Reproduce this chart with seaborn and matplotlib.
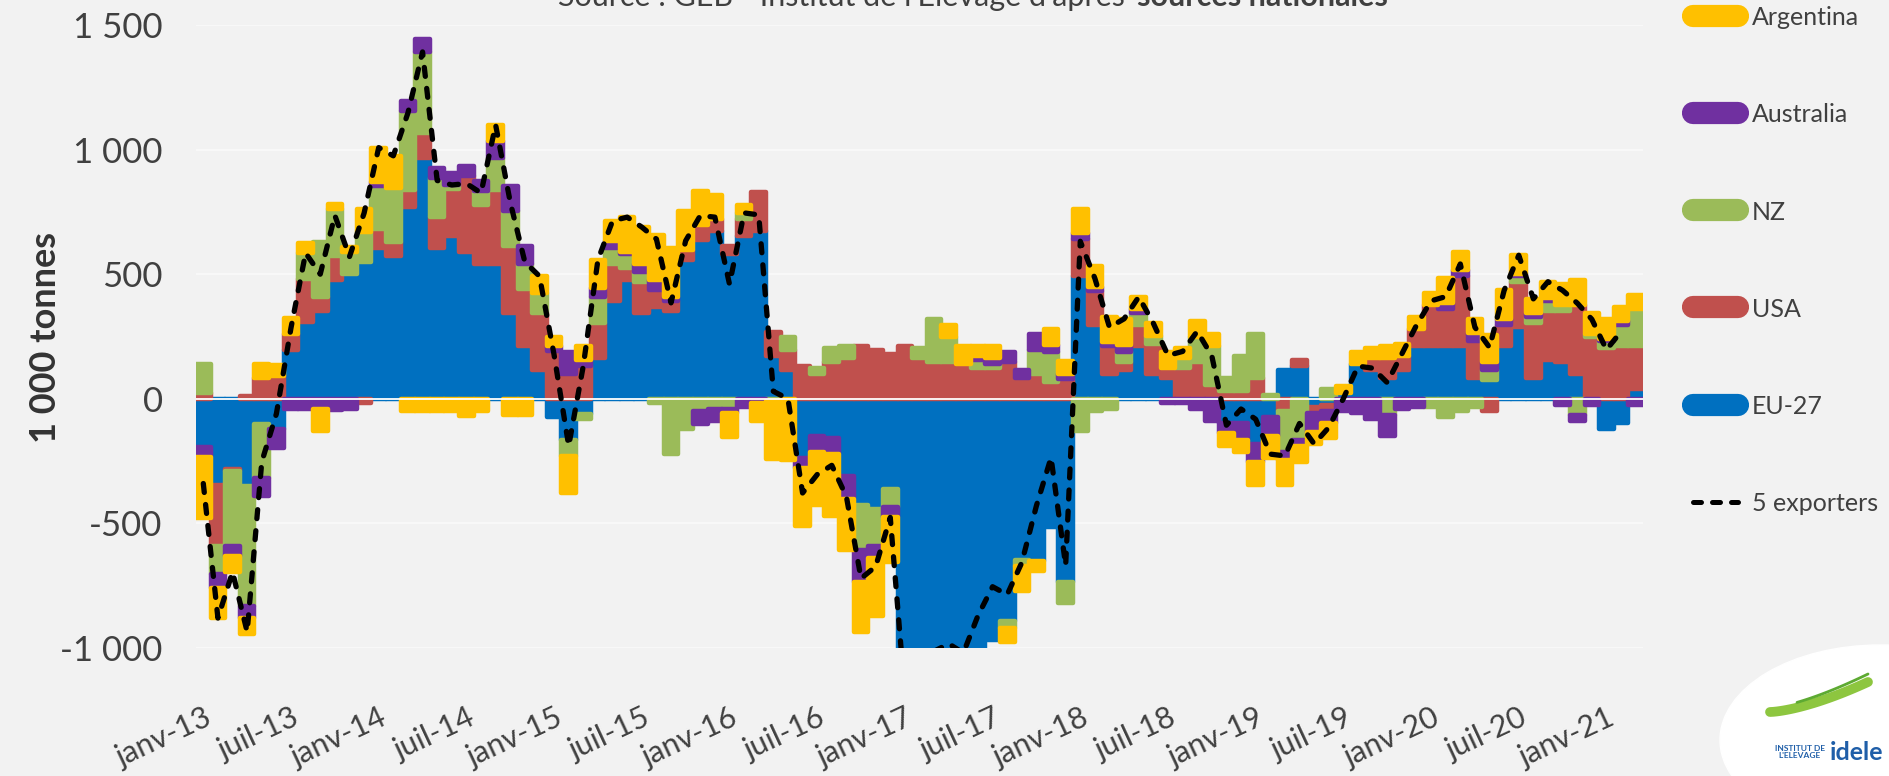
import numpy as np
import pandas as pd
import matplotlib
matplotlib.use("Agg")
import matplotlib.pyplot as plt
import seaborn as sns
from matplotlib.lines import Line2D
from matplotlib.patches import Ellipse

# Monthly change in beef exports (1 000 t), Jan 2013 - Mar 2021
months = pd.date_range("2013-01-01", "2021-03-01", freq="MS")

eu27 = [-195, -345, -280, -350, -103, -123, 195, 310, 352, 475,
        500, 550, 606, 574, 770, 967, 606, 655, 590, 540,
        541, 344, 213, 115, -74, -164, -60, 164, 393, 475,
        344, 369, 352, 557, 639, 672, 582, 655, 672, 172,
        115, -238, -148, -156, -311, -426, -443, -361, -1400, -1300,
        -1333, -1278, -1233, -1083, -967, -893, -647, -650, -516, -737,
        492, 295, 98, 115, 213, 98, 82, 0, 0, 0,
        -98, -98, -180, -74, 115, 131, -33, -25, 25, 139,
        115, 82, 115, 213, 213, 213, 213, 82, 74, 213,
        287, 82, 156, 148, 98, 0, -123, -98, 41]

usa = [25, -245, -10, 10, 84, 90, 65, 170, 57, 98,
       0, -15, 74, 57, 66, 98, 123, 188, 303, 238,
       295, 270, 229, 229, 190, 98, 131, 139, 148, 49,
       123, 66, 41, 41, 57, 49, 33, 66, 156, 98,
       82, 131, 98, 148, 164, 213, 197, 180, 213, 164,
       148, 148, 139, 123, 123, 148, 82, 98, 66, 80,
       148, 139, 115, 33, 82, 123, 41, 123, 148, 57,
       33, 33, 82, 0, -49, 25, -25, -25, 0, 0,
       49, 82, 57, 66, 164, 148, 279, 148, -49, 82,
       180, 221, 197, 205, 279, 246, 205, 213, 172]

nz = [115, -115, -300, -480, -214, 0, 0, 105, 221, 188,
      90, 120, 172, 213, 320, 328, 156, 16, 0, 57,
      131, 140, 98, 82, 0, -66, -20, 107, 66, 57,
      41, -15, -221, -120, -50, -40, -40, 25, 0, -10,
      49, 0, 25, 57, 49, -180, -148, -74, 0, 41,
      172, 98, 0, 33, 16, -25, -25, 98, 123, -82,
      -131, -49, -40, 41, 49, 33, 0, 41, 98, 156,
      49, 139, 180, 16, -164, -164, 0, 41, 0, 0,
      0, -66, 0, 0, -33, -74, -50, -33, 41, 0,
      25, 25, 41, 25, -66, 16, 25, 82, 148]

australia = [-40, -55, -40, -50, -74, -74, -40, -40, -40, -45,
             -40, 0, 16, 0, 41, 49, 41, 49, 41, 41,
             66, 100, 74, 0, 20, 90, 25, 33, 25, 8,
             33, 41, 16, 0, -50, -50, -15, -33, -15, 0,
             0, -41, -66, -66, -90, -131, -49, -41, 0, 0,
             0, 0, 0, 16, 25, 41, 33, 66, 25, 20,
             25, 16, 16, 25, 16, 0, -15, -15, -41, -90,
             -41, -66, -74, -74, -33, -25, -74, -49, -49, -57,
             -82, -82, -41, -33, 0, 25, 25, 33, 33, 25,
             10, 16, 10, -25, -25, -25, 8, 16, -25]

argentina = [-245, -120, -65, -65, 54, 47, 65, 40, -90, 20,
             20, 90, 140, 131, -50, -50, -50, -50, -70, -50,
             66, -65, -65, 66, 40, -147, 57, 115, 82, 140,
             148, 180, 197, 156, 139, 98, -100, 33, -75, -230,
             -246, -230, -213, -250, -205, -197, -230, -180, 0, 0,
             0, 49, 74, 41, 49, -57, -100, -41, 66, 50,
             98, 82, 98, 107, 49, 49, 66, 41, 66, 49,
             -49, -49, -90, -90, -98, -66, -49, -57, 25, 49,
             41, 49, 49, 49, 49, 98, 74, 57, 107, 115,
             74, 57, 66, 82, 98, 82, 82, 57, 57]

series_names = ["EU-27", "USA", "NZ", "Australia", "Argentina"]
series_colors = ["#0070C0", "#C0504D", "#9BBB59", "#7030A0", "#FFC000"]
legend_order = ["Argentina", "Australia", "NZ", "USA", "EU-27"]
line_label = "5 exporters"

tick_labels = ["janv-13", "juil-13", "janv-14", "juil-14", "janv-15", "juil-15",
               "janv-16", "juil-16", "janv-17", "juil-17", "janv-18", "juil-18",
               "janv-19", "juil-19", "janv-20", "juil-20", "janv-21"]
y_ticks = [-1000, -500, 0, 500, 1000, 1500]
y_tick_labels = ["-1 000", "-500", "0", "500", "1 000", "1 500"]

df = pd.DataFrame({"month": months, "EU-27": eu27, "USA": usa, "NZ": nz,
                   "Australia": australia, "Argentina": argentina})
df["pos"] = np.arange(len(df))
# the 5-exporter total is available up to February 2021
df["total"] = df[series_names].sum(axis=1)
line_df = df.iloc[:-1][["pos", "total"]]

BG = "#F2F2F2"
TXT = "#404040"
sns.set_style("white", {"axes.facecolor": BG, "figure.facecolor": BG})
plt.rcParams["font.family"] = ["Lato", "DejaVu Sans"]

W, H = 1890, 776
fig = plt.figure(figsize=(W / 100, H / 100), dpi=100)
ax = fig.add_axes([196 / W, 1 - 648 / H, (1643 - 196) / W, (648 - 25) / H])
ax.set_facecolor(BG)

# stacked bars: positives and negatives stack separately
x = df["pos"].to_numpy()
pos_base = np.zeros(len(df))
neg_base = np.zeros(len(df))
for name, color in zip(series_names, series_colors):
    vals = df[name].to_numpy(dtype=float)
    bottoms = np.where(vals >= 0, pos_base, neg_base)
    lws = np.where(vals != 0, 3.2, 0.0)
    ax.bar(x, vals, bottom=bottoms, width=1.0, color=color, edgecolor=color,
           linewidth=lws, joinstyle="round", zorder=2)
    pos_base += np.clip(vals, 0, None)
    neg_base += np.clip(vals, None, 0)

ax.axhline(0, color="white", lw=1.3, zorder=4)

n_before = len(ax.lines)
sns.lineplot(data=line_df, x="pos", y="total", ax=ax, color="black",
             lw=3.8, zorder=6, legend=False)
for ln in ax.lines[n_before:]:
    ln.set_dashes([1.7, 2.3])
    ln.set_dash_capstyle("round")

ax.set_xlim(-0.5, len(df) - 0.5)
ax.set_ylim(-1000, 1500)
ax.set_yticks(y_ticks)
ax.set_yticklabels(y_tick_labels)
ax.set_xticks(np.arange(0, len(df), 6))
ax.set_xticklabels(tick_labels)
ax.set_xlabel("")
ax.set_ylabel("")
ax.yaxis.grid(True, color="#FAFAFA", lw=1.2, zorder=0)
ax.set_axisbelow(True)
for sp in ax.spines.values():
    sp.set_visible(False)

ax.tick_params(axis="y", length=0, pad=24, labelsize=25, labelcolor=TXT)
ax.tick_params(axis="x", length=0, pad=40, labelsize=22, labelcolor=TXT)
for lbl in ax.get_xticklabels():
    lbl.set_rotation(25)
    lbl.set_ha("right")
    lbl.set_va("top")
    lbl.set_rotation_mode("anchor")

fig.text(46 / W, 0.565, "1 000 tonnes", rotation=90, fontsize=26,
         fontweight="bold", color="#333333", ha="center", va="center")

# source line, running off the top edge
fig.text(1125 / W, 1 - 6 / H, "Source : GEB - Institut de l'Elevage d'après",
         ha="right", va="baseline", fontsize=22, color=TXT)
fig.text(1137 / W, 1 - 6 / H, "sources nationales",
         ha="left", va="baseline", fontsize=22, color=TXT, fontweight="bold")

# legend
color_of = dict(zip(series_names, series_colors))
handles = [Line2D([0], [0], color=color_of[n], lw=16, solid_capstyle="round")
           for n in legend_order]
dash = Line2D([0], [0], color="black", lw=3.6, dash_capstyle="round")
dash.set_dashes([1.6, 2.2])
handles.append(dash)
labels = legend_order + [line_label]
leg = fig.legend(handles, labels, loc="upper left",
                 bbox_to_anchor=(1693 / W, 1 - 6 / H), frameon=False,
                 fontsize=18, handlelength=1.8, handleheight=0.9,
                 handletextpad=0.55, labelspacing=2.97, borderpad=0,
                 borderaxespad=0)
for t in leg.get_texts():
    t.set_color(TXT)

# institute badge, lower right
badge = Ellipse((1880 / W, 1 - 740 / H), 320 / W, 190 / H,
                transform=fig.transFigure, color="white", zorder=1)
fig.patches.append(badge)
sw_x = np.linspace(1770, 1868, 30)
fig.add_artist(Line2D(sw_x / W,
                      1 - (712 - 30 * ((sw_x - 1770) / 98) ** 1.5) / H,
                      transform=fig.transFigure, color="#8DC63F", lw=7,
                      solid_capstyle="round"))
fig.add_artist(Line2D(sw_x[8:] / W,
                      1 - (708 - 34 * ((sw_x[8:] - 1770) / 98) ** 1.4) / H,
                      transform=fig.transFigure, color="#5DAA32", lw=2,
                      solid_capstyle="round"))
fig.text(1800 / W, 1 - 752 / H, "INSTITUT DE\nL'ELEVAGE", fontsize=6,
         color="#1F5EA8", fontweight="bold", ha="center", va="center",
         linespacing=1.0)
fig.text(1857 / W, 1 - 752 / H, "idele", fontsize=18, color="#1F5EA8",
         fontweight="bold", ha="center", va="center")

fig.savefig("out.png", dpi=100, facecolor=BG)
